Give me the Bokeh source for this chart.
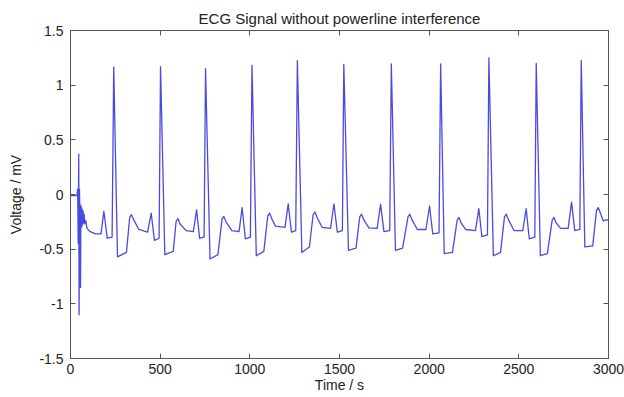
from bokeh.plotting import figure
from bokeh.models import LinearAxis, Range1d, FixedTicker, ColumnDataSource
from bokeh.embed import file_html
from bokeh.resources import INLINE

# ---- data (time in s, voltage in mV) ----
# start-up transient
onset_t = [0, 36, 40, 43, 46, 48, 50, 53, 56, 58, 60, 62, 64, 66, 68, 70, 73, 76, 80, 85,
           92, 110, 140]
onset_v = [-0.01, -0.01, 0.05, -0.45, 0.37, -1.10, 0.05, -0.22, -0.85, -0.10, -0.30, -0.12,
           -0.29, -0.14, -0.27, -0.15, -0.26, -0.18, -0.27, -0.24, -0.31, -0.34, -0.36]

# per-beat landmarks
base_t = [170, 430, 685, 940, 1196, 1450, 1710, 1982, 2258, 2522, 2775]
base_v = [-0.36, -0.345, -0.34, -0.34, -0.30, -0.31, -0.31, -0.32, -0.33, -0.33, -0.31]
p_t = [186, 450, 703, 957, 1214, 1469, 1729, 2002, 2277, 2541, 2794]
p_v = [-0.155, -0.17, -0.14, -0.12, -0.085, -0.085, -0.09, -0.105, -0.13, -0.13, -0.07]
pd_t = [205, 468, 720, 975, 1232, 1488, 1748, 2020, 2294, 2558, 2812]
pd_v = [-0.40, -0.42, -0.40, -0.405, -0.345, -0.345, -0.34, -0.36, -0.385, -0.405, -0.33]
q_t = [232, 494, 745, 1003, 1256, 1516, 1780, 2055, 2325, 2589, 2840]
q_v = [-0.39, -0.40, -0.39, -0.39, -0.33, -0.33, -0.33, -0.35, -0.37, -0.39, -0.32]
r_t = [241, 502, 753, 1012, 1265, 1524, 1789, 2064, 2333, 2597, 2848]
r_v = [1.165, 1.17, 1.15, 1.18, 1.225, 1.19, 1.195, 1.195, 1.25, 1.20, 1.225]
s_t = [262, 526, 778, 1036, 1290, 1550, 1812, 2084, 2358, 2620, 2868]
s_v = [-0.57, -0.55, -0.59, -0.56, -0.53, -0.51, -0.51, -0.54, -0.56, -0.56, -0.48]
j_t = [312, 573, 822, 1078, 1332, 1592, 1852, 2130, 2398, 2659, 2912]
j_v = [-0.53, -0.52, -0.55, -0.52, -0.48, -0.49, -0.49, -0.53, -0.53, -0.54, -0.47]
tu_t = [330, 589, 845, 1100, 1353, 1613, 1882, 2156, 2420, 2686, 2933]
tu_v = [-0.21, -0.245, -0.225, -0.195, -0.185, -0.205, -0.205, -0.235, -0.205, -0.235, -0.145]
tw_t = [340, 599, 855, 1110, 1363, 1623, 1892, 2166, 2430, 2696, 2943]
tw_v = [-0.185, -0.22, -0.20, -0.17, -0.16, -0.18, -0.18, -0.21, -0.18, -0.21, -0.12]
td_t = [352, 611, 867, 1122, 1375, 1635, 1904, 2178, 2442, 2708, 2955]
td_v = [-0.23, -0.27, -0.25, -0.22, -0.21, -0.23, -0.23, -0.26, -0.23, -0.26, -0.17]
e_t = [381, 645, 900, 1143, 1403, 1664, 1934, 2203, 2473, 2733, 2970]
e_v = [-0.32, -0.33, -0.33, -0.29, -0.30, -0.305, -0.32, -0.32, -0.33, -0.31, -0.24]

tail_t = [3000]
tail_v = [-0.23]

x_ticks = [0, 500, 1000, 1500, 2000, 2500, 3000]
x_tick_labels = ["0", "500", "1000", "1500", "2000", "2500", "3000"]
y_ticks = [-1.5, -1, -0.5, 0, 0.5, 1, 1.5]
y_tick_labels = ["-1.5", "-1", "-0.5", "0", "0.5", "1", "1.5"]

# ---- assemble the trace from the read landmarks ----
t = list(onset_t)
v = list(onset_v)
for i in range(len(r_t)):
    t += [base_t[i], p_t[i], pd_t[i], q_t[i], r_t[i], s_t[i], j_t[i],
          tu_t[i], tw_t[i], td_t[i], e_t[i]]
    v += [base_v[i], p_v[i], pd_v[i], q_v[i], r_v[i], s_v[i], j_v[i],
          tu_v[i], tw_v[i], td_v[i], e_v[i]]
t += tail_t
v += tail_v

src = ColumnDataSource(dict(t=t, v=v))

FONT = "Liberation Sans"
TXT = "#222222"
AX = "#555555"

p = figure(width=624, height=397, output_backend="svg", toolbar_location=None,
           x_range=Range1d(0, 3000), y_range=Range1d(-1.5, 1.5),
           min_border_left=70, min_border_right=16, min_border_top=30, min_border_bottom=39,
           title="ECG Signal without powerline interference")
p.background_fill_color = "white"
p.border_fill_color = "white"
p.outline_line_color = AX
p.xgrid.visible = False
p.ygrid.visible = False

p.title.align = "center"
p.title.text_font = FONT
p.title.text_font_size = "15px"
p.title.text_font_style = "normal"
p.title.text_color = TXT
p.title.standoff = 7

p.line("t", "v", source=src, line_color="#4a4ae2", line_width=1.3, line_join="round")

xticks_map = dict(zip(x_ticks, x_tick_labels))
yticks_map = dict(zip(y_ticks, y_tick_labels))

def style(ax, ticks, labels, show_labels):
    ax.ticker = FixedTicker(ticks=ticks)
    ax.minor_tick_line_color = None
    ax.major_tick_in = 5
    ax.major_tick_out = 0
    ax.axis_line_color = AX
    ax.major_tick_line_color = AX
    ax.major_label_text_font = FONT
    ax.major_label_text_color = TXT
    ax.axis_label_text_font = FONT
    ax.axis_label_text_color = TXT
    ax.axis_label_text_font_style = "normal"
    if show_labels:
        ax.major_label_overrides = labels
        ax.major_label_text_font_size = "14px"
        ax.axis_label_text_font_size = "14px"
    else:
        ax.major_label_overrides = {k: "" for k in ticks}
        ax.major_label_text_font_size = "1px"
        ax.major_label_text_color = None
        ax.major_label_standoff = 0
        ax.axis_label = None

style(p.xaxis[0], x_ticks, xticks_map, True)
style(p.yaxis[0], y_ticks, yticks_map, True)
p.xaxis[0].axis_label = "Time / s"
p.yaxis[0].axis_label = "Voltage / mV"
p.xaxis[0].major_label_standoff = 5
p.xaxis[0].axis_label_standoff = 0
p.yaxis[0].major_label_standoff = 7
p.yaxis[0].axis_label_standoff = 12

top = LinearAxis()
right = LinearAxis()
style(top, x_ticks, xticks_map, False)
style(right, y_ticks, yticks_map, False)
p.add_layout(top, "above")
p.add_layout(right, "right")

open("out.html", "w").write(file_html(p, INLINE))
